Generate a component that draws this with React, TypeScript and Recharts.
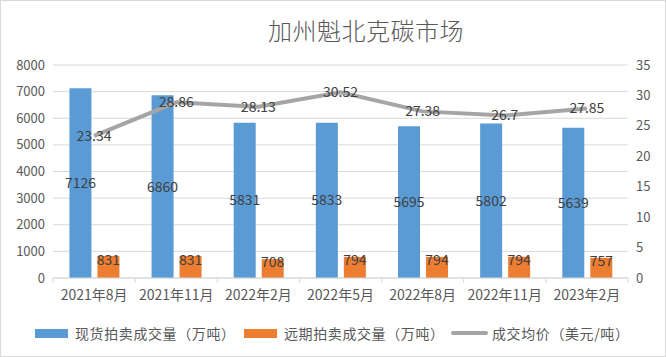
import { ComposedChart, Bar, Line, XAxis, YAxis, CartesianGrid, LabelList } from 'recharts'

const categories = ['2021年8月', '2021年11月', '2022年2月', '2022年5月', '2022年8月', '2022年11月', '2023年2月']
const spotVolume = [7126, 6860, 5831, 5833, 5695, 5802, 5639]
const forwardVolume = [831, 831, 708, 794, 794, 794, 757]
const avgPrice = [23.34, 28.86, 28.13, 30.52, 27.38, 26.7, 27.85]
const leftTicks = [0, 1000, 2000, 3000, 4000, 5000, 6000, 7000, 8000]
const rightTicks = [0, 5, 10, 15, 20, 25, 30, 35]

const data = categories.map((month, i) => ({
  month,
  spot: spotVolume[i],
  forward: forwardVolume[i],
  price: avgPrice[i],
}))

const FONT = '"Noto Sans CJK SC", "Noto Sans", sans-serif'
const BLUE = '#5B9BD5'
const ORANGE = '#ED7D31'
const GRAY = '#A5A5A5'
const TEXT = '#595959'
const LABEL = '#404040'
const GRID = '#D9D9D9'

function CategoryTick(props: any) {
  const { x, y, payload, index } = props
  const half = payload?.offset || 41
  const axisY = y - 9
  return (
    <g>
      <line x1={x - half} x2={x - half} y1={axisY} y2={axisY + 5} stroke={GRID} />
      {index === categories.length - 1 && (
        <line x1={x + half} x2={x + half} y1={axisY} y2={axisY + 5} stroke={GRID} />
      )}
      <text x={x} y={axisY + 22} textAnchor="middle" fill={TEXT} fontSize={14} fontFamily={FONT}>
        {payload.value}
      </text>
    </g>
  )
}

// legend drawn by hand so the spacing matches the Excel layout
function LegendItem({ color, label, textWidth, gap, line }: { color: string; label: string; textWidth: number; gap: number; line?: boolean }) {
  return (
    <div style={{ display: 'flex', alignItems: 'center', marginRight: gap }}>
      <span
        style={{
          display: 'inline-block',
          width: line ? 37 : 33,
          height: line ? 4 : 9,
          borderRadius: line ? 2 : 0,
          backgroundColor: color,
          marginRight: line ? 4 : 7,
        }}
      />
      <span style={{ display: 'inline-block', width: textWidth, letterSpacing: 0.6 }}>{label}</span>
    </div>
  )
}

export default function App() {
  return (
    <div
      style={{
        position: 'absolute',
        left: 0,
        top: 0,
        width: 666,
        height: 357,
        background: '#fff',
        fontFamily: FONT,
      }}
    >
      <div
        style={{
          position: 'absolute',
          left: 268,
          top: 18,
          fontSize: 24,
          lineHeight: '24px',
          color: TEXT,
          fontWeight: 300,
          letterSpacing: 0.5,
          whiteSpace: 'nowrap',
        }}
      >
        加州魁北克碳市场
      </div>

      <ComposedChart
        width={666}
        height={357}
        data={data}
        margin={{ top: 65, right: 0, left: 0, bottom: 49 }}
        barCategoryGap="20%"
        barGap={6}
        style={{ position: 'absolute', left: 0, top: 0 }}
      >
        <CartesianGrid vertical={false} stroke={GRID} yAxisId="left" />
        <XAxis
          dataKey="month"
          height={30}
          axisLine={{ stroke: GRID }}
          tickLine={false}
          tickSize={5}
          tickMargin={4}
          interval={0}
          tick={<CategoryTick />}
        />
        <YAxis
          yAxisId="left"
          width={53}
          domain={[0, 8000]}
          ticks={leftTicks}
          axisLine={false}
          tickLine={false}
          tick={{ fontSize: 13, fill: TEXT, fontFamily: FONT }}
        />
        <YAxis
          yAxisId="right"
          orientation="right"
          width={38}
          domain={[0, 35]}
          ticks={rightTicks}
          axisLine={false}
          tickLine={false}
          tick={{ fontSize: 13, fill: TEXT, fontFamily: FONT }}
        />
        <Bar yAxisId="left" dataKey="spot" name="现货拍卖成交量（万吨）" fill={BLUE} isAnimationActive={false}>
          <LabelList dataKey="spot" position="center" fill={LABEL} fontSize={14} fontFamily={FONT} />
        </Bar>
        <Bar yAxisId="left" dataKey="forward" name="远期拍卖成交量（万吨）" fill={ORANGE} isAnimationActive={false}>
          <LabelList dataKey="forward" position="center" dy={-7} fill={LABEL} fontSize={14} fontFamily={FONT} />
        </Bar>
        <Line
          yAxisId="right"
          type="linear"
          dataKey="price"
          name="成交均价（美元/吨）"
          stroke={GRAY}
          strokeWidth={4}
          dot={false}
          activeDot={false}
          isAnimationActive={false}
        >
          <LabelList dataKey="price" position="center" fill={LABEL} fontSize={14} fontFamily={FONT} />
        </Line>
      </ComposedChart>

      <div
        style={{
          position: 'absolute',
          left: 35,
          top: 324,
          display: 'flex',
          alignItems: 'center',
          fontSize: 14,
          lineHeight: '18px',
          color: TEXT,
          whiteSpace: 'nowrap',
        }}
      >
        <LegendItem color={BLUE} label="现货拍卖成交量（万吨）" textWidth={157} gap={12} />
        <LegendItem color={ORANGE} label="远期拍卖成交量（万吨）" textWidth={157} gap={10} />
        <LegendItem color={GRAY} label="成交均价（美元/吨）" textWidth={134} gap={0} line />
      </div>

      <div
        style={{
          position: 'absolute',
          left: 0,
          top: 0,
          width: 666,
          height: 357,
          boxSizing: 'border-box',
          border: '1px solid #D9D9D9',
          pointerEvents: 'none',
        }}
      />
    </div>
  )
}
